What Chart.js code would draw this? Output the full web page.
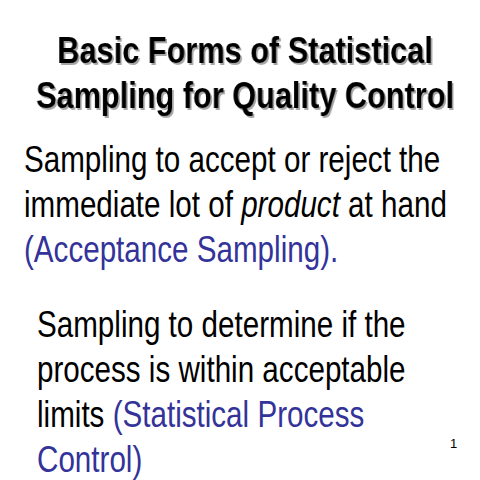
<!DOCTYPE html>
<html><head><meta charset="utf-8">
<script src="https://cdn.jsdelivr.net/npm/chart.js@4"></script>
<style>
html,body{margin:0;padding:0;width:480px;height:480px;background:#fff;overflow:hidden}
#wrap{position:absolute;left:6px;top:0;width:576px;height:130px;transform:scaleX(0.83);transform-origin:0 0}
.t{position:absolute;font-family:"Liberation Sans",Arial,sans-serif;font-size:37px;color:#000;white-space:nowrap;line-height:1;transform:scaleX(0.8);transform-origin:0 0}
.b{color:#333399}
</style></head><body>
<div id="wrap"><canvas id="c" width="576" height="130"></canvas></div>
<div class="t" style="left:24px;top:141px">Sampling to accept or reject the</div>
<div class="t" style="left:24px;top:186px">immediate lot of <i>product</i> at hand</div>
<div class="t b" style="left:24px;top:231px">(Acceptance Sampling).</div>
<div class="t" style="left:37px;top:306px">Sampling to determine if the</div>
<div class="t" style="left:37px;top:351px">process is within acceptable</div>
<div class="t" style="left:37px;top:396px">limits <span class="b">(Statistical Process</span></div>
<div class="t b" style="left:37px;top:441px">Control)</div>
<div class="t" style="left:450px;top:437px;font-size:13px;transform:none">1</div>
<script>
const titleLines = ['Basic Forms of Statistical', 'Sampling for Quality Control'];
const shadow = {
  id: 'shadow',
  beforeDraw(chart) {
    const ctx = chart.ctx;
    ctx.shadowColor = 'rgba(0,0,0,0.35)';
    ctx.shadowOffsetX = 2;
    ctx.shadowOffsetY = 2;
  }
};
new Chart(document.getElementById('c'), {
  type: 'bar',
  data: { labels: [], datasets: [] },
  plugins: [shadow],
  options: {
    responsive: false,
    animation: false,
    scales: { x: { display: false }, y: { display: false } },
    plugins: {
      legend: { display: false },
      tooltip: { enabled: false },
      title: {
        display: true,
        text: titleLines,
        color: '#000',
        padding: { top: 30, bottom: 0 },
        font: { family: '"Liberation Sans",Arial', size: 37, weight: 'bold', lineHeight: 1.22 }
      }
    }
  }
});
</script>
</body></html>
